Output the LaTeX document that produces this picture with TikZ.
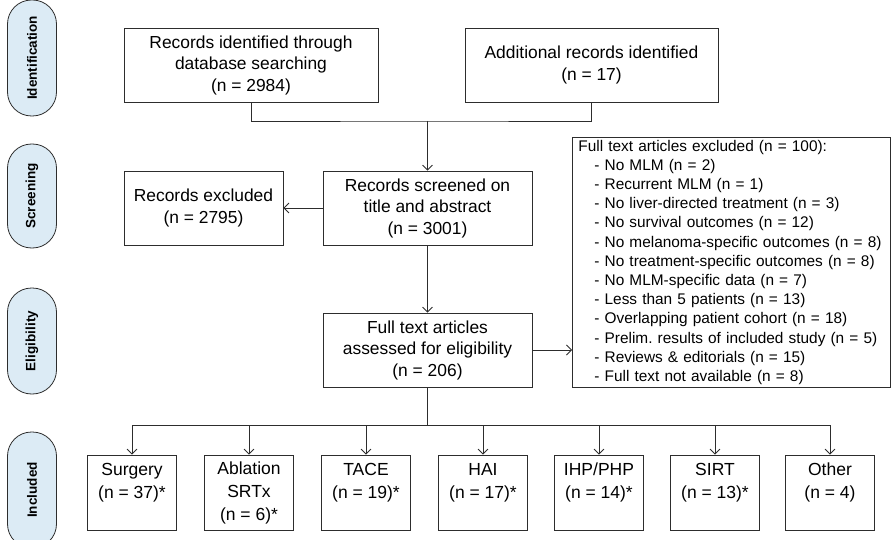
\documentclass[tikz,border=0pt]{standalone}
\usepackage{fontspec}
\setmainfont{Liberation Sans}
\usetikzlibrary{arrows.meta}
\definecolor{pillblue}{RGB}{220,235,245}
\definecolor{linegray}{RGB}{45,45,45}
\frenchspacing

\begin{document}
\begin{tikzpicture}[x=1pt, y=-1pt,
  every node/.style = {align=center, text=black},
  box/.style = {draw=linegray, line width=0.8pt, rectangle, inner sep=0pt,
    font=\fontsize{17.4}{21.5}\selectfont},
  pill/.style = {draw=linegray, line width=0.8pt, fill=pillblue, rotate=90,
    rounded corners=24pt, minimum height=49, inner sep=0pt,
    font=\fontsize{13.5}{15}\selectfont\bfseries},
  treat/.style = {box, minimum width=89, minimum height=75,
    font=\fontsize{17.5}{23}\selectfont},
  flow/.style = {draw=linegray, line width=0.8pt},
  >={Straight Barb[length=5pt,width=10pt]}]
  \useasboundingbox (0,0) rectangle (891,540);

  % phases
  \node[pill, minimum width=116] (phident) at (32,58) {Identification};
  \node[pill, minimum width=104] (phscreen) at (32,196) {Screening};
  \node[pill, minimum width=106] (phelig) at (32,341) {Eligibility};
  \node[pill, minimum width=116] (phincl) at (32,490) {Included};

  % records
  \node[box, minimum width=254, minimum height=74] (dbrec) at (251,65)
    {Records identified through\\database searching\\(n = 2984)};
  \node[box, minimum width=253, minimum height=74] (addrec) at (591.5,65)
    {Additional records identified\\(n = 17)};
  \node[box, minimum width=209, minimum height=74] (screened) at (427.5,208)
    {Records screened on\\title and abstract\\(n = 3001)};
  \node[box, minimum width=159, minimum height=74] (excluded) at (203.5,208)
    {Records excluded\\(n = 2795)};
  \node[box, minimum width=209, minimum height=74] (fulltext) at (427.5,350)
    {Full text articles\\assessed for eligibility\\(n = 206)};
  \node[box, anchor=north west, text width=306, minimum height=250,
    align=left, inner xsep=6pt, font=\fontsize{15.4}{19.2}\selectfont] (ftexcl) at (572,137)
    {Full text articles excluded (n = 100):\\
     \hspace*{16pt}- No MLM (n = 2)\\
     \hspace*{16pt}- Recurrent MLM (n = 1)\\
     \hspace*{16pt}- No liver-directed treatment (n = 3)\\
     \hspace*{16pt}- No survival outcomes (n = 12)\\
     \hspace*{16pt}- No melanoma-specific outcomes (n = 8)\\
     \hspace*{16pt}- No treatment-specific outcomes (n = 8)\\
     \hspace*{16pt}- No MLM-specific data (n = 7)\\
     \hspace*{16pt}- Less than 5 patients (n = 13)\\
     \hspace*{16pt}- Overlapping patient cohort (n = 18)\\
     \hspace*{16pt}- Prelim.\ results of included study (n = 5)\\
     \hspace*{16pt}- Reviews \& editorials (n = 15)\\
     \hspace*{16pt}- Full text not available (n = 8)};

  % included studies
  \node[treat] (surgery) at (132,492.5) {Surgery\\(n = 37)*\\~};
  \node[treat] (ablation) at (249,492.5) {Ablation\\SRTx\\(n = 6)*};
  \node[treat] (tace) at (366,492.5) {TACE\\(n = 19)*\\~};
  \node[treat] (hai) at (483,492.5) {HAI\\(n = 17)*\\~};
  \node[treat] (ihp) at (599,492.5) {IHP/PHP\\(n = 14)*\\~};
  \node[treat] (sirt) at (715,492.5) {SIRT\\(n = 13)*\\~};
  \node[treat] (other) at (830,492.5) {Other\\(n = 4)\\~};

  % connectors
  \coordinate (merge) at (427.5,121);
  \coordinate (split) at (427.5,425);
  \draw[flow] (dbrec.south) |- (merge) -| (addrec.south);
  \draw[flow,->] (merge) -- (screened.north);
  \draw[flow,->] (screened.west) -- (excluded.east);
  \draw[flow,->] (screened.south) -- (fulltext.north);
  \draw[flow,->] (fulltext.east) -- (fulltext.east -| ftexcl.west);
  \draw[flow] (fulltext.south) -- (split);
  \draw[flow] (surgery.north |- split) -- (other.north |- split);
  \draw[flow,->] (surgery.north |- split) -- (surgery.north);
  \draw[flow,->] (ablation.north |- split) -- (ablation.north);
  \draw[flow,->] (tace.north |- split) -- (tace.north);
  \draw[flow,->] (hai.north |- split) -- (hai.north);
  \draw[flow,->] (ihp.north |- split) -- (ihp.north);
  \draw[flow,->] (sirt.north |- split) -- (sirt.north);
  \draw[flow,->] (other.north |- split) -- (other.north);
\end{tikzpicture}
\end{document}
